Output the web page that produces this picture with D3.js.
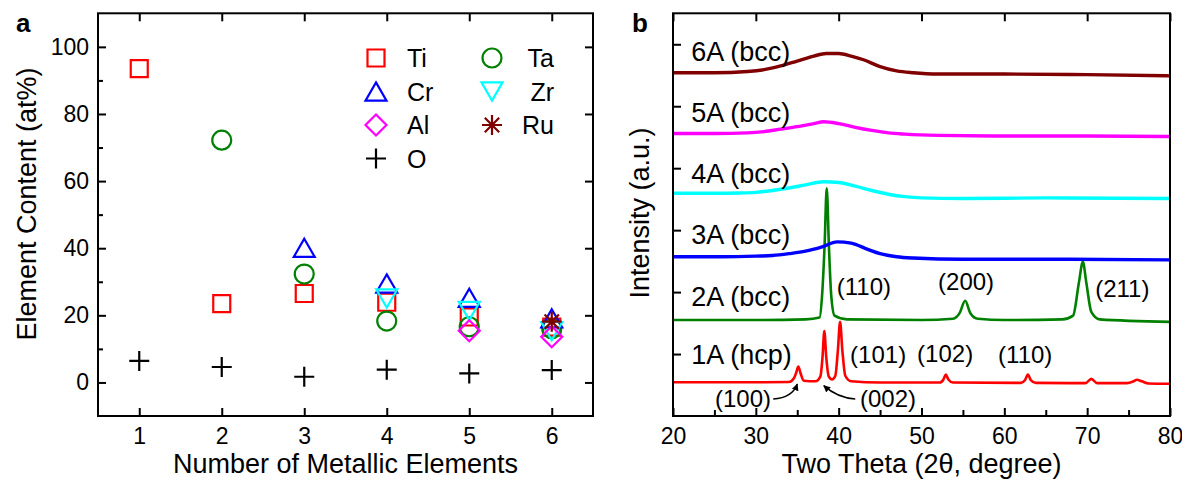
<!DOCTYPE html>
<html>
<head>
<meta charset="utf-8">
<script src="https://cdn.jsdelivr.net/npm/d3@7"></script>
<style>
  body { margin: 0; background: #fff; }
  svg { display: block; }
  text { font-family: "Liberation Sans", Arial, sans-serif; fill: #000; }
</style>
</head>
<body>
<svg id="chart" width="1182" height="481"></svg>
<script>
// ---- panel a: composition vs number of metallic elements ----
const metalCounts = [1, 2, 3, 4, 5, 6];
const tiContent = [93.5, 23.5, 26.5, 23.9, 19.5, 16.5];
const taContent = [null, 72.2, 32.3, 18.3, 16.6, 16.0];
const crContent = [null, null, 40.1, 29.5, 25.2, 19.1];
const zrContent = [null, null, null, 25.0, 21.3, 15.3];
const alContent = [null, null, null, null, 15.4, 13.6];
const ruContent = [null, null, null, null, null, 18.1];
const oContent = [6.4, 4.6, 1.7, 3.8, 2.7, 3.7];
const aTicksX = [1, 2, 3, 4, 5, 6];
const aTicksY = [0, 20, 40, 60, 80, 100];
const aMinorY = [10, 30, 50, 70, 90];

// ---- panel b: XRD patterns (stacked, intensity in axis units) ----
const theta1A = [20, 30, 34.0, 34.6, 34.9, 35.13, 35.4, 35.8, 37.2, 37.8, 38.05, 38.27, 38.5, 38.8, 39.2, 39.6, 39.9, 40.17, 40.45, 40.8, 41.5, 45, 52.2, 52.65, 52.93, 53.25, 53.8, 62, 62.5, 62.84, 63.2, 63.8, 69.8, 70.5, 71.2, 74.8, 75.6, 76.0, 76.6, 77.4, 80];
const int1A = [0.545, 0.545, 0.55, 0.61, 0.71, 0.80, 0.69, 0.57, 0.56, 0.64, 0.95, 1.37, 0.95, 0.64, 0.59, 0.65, 1.05, 1.52, 1.05, 0.65, 0.56, 0.54, 0.54, 0.59, 0.67, 0.59, 0.54, 0.535, 0.58, 0.67, 0.58, 0.535, 0.53, 0.60, 0.53, 0.53, 0.56, 0.585, 0.56, 0.525, 0.52];
const theta2A = [20, 30, 36, 37.7, 38.0, 38.3, 38.56, 38.82, 39.1, 39.5, 41, 50, 53.8, 54.6, 55.27, 55.9, 56.8, 60, 67, 68.3, 69.0, 69.48, 69.9, 70.5, 71.5, 80];
const int2A = [1.55, 1.55, 1.56, 1.59, 1.95, 2.75, 3.675, 2.75, 1.95, 1.62, 1.56, 1.55, 1.57, 1.66, 1.86, 1.66, 1.57, 1.55, 1.56, 1.62, 2.15, 2.49, 2.15, 1.68, 1.56, 1.52];
const theta3A = [20, 26, 30, 32, 34, 36, 38, 39.8, 41.5, 43.5, 45, 47, 49, 55, 65, 80];
const int3A = [2.57, 2.57, 2.58, 2.59, 2.62, 2.66, 2.73, 2.81, 2.79, 2.69, 2.62, 2.57, 2.55, 2.53, 2.53, 2.52];
const theta4A = [20, 25, 28, 30, 32, 34, 36, 38.2, 40, 42, 44, 46, 48, 50, 55, 65, 80];
const int4A = [3.595, 3.595, 3.60, 3.61, 3.64, 3.68, 3.73, 3.78, 3.77, 3.71, 3.64, 3.58, 3.54, 3.52, 3.51, 3.52, 3.51];
const theta5A = [20, 25, 29, 31, 33, 35, 37, 38.2, 40, 42, 44, 46, 48, 52, 60, 70, 80];
const int5A = [4.56, 4.56, 4.57, 4.59, 4.63, 4.67, 4.72, 4.75, 4.72, 4.66, 4.61, 4.57, 4.55, 4.53, 4.52, 4.52, 4.51];
const theta6A = [20, 25, 29, 31, 33, 35, 37, 38.5, 40, 41.5, 43, 45, 47, 49, 52, 60, 70, 80];
const int6A = [5.54, 5.54, 5.56, 5.59, 5.65, 5.73, 5.81, 5.85, 5.85, 5.81, 5.75, 5.64, 5.57, 5.54, 5.52, 5.52, 5.51, 5.49];
const sampleNames = ["1A (hcp)", "2A (bcc)", "3A (bcc)", "4A (bcc)", "5A (bcc)", "6A (bcc)"];
const sampleLabelY = [0.84, 1.78, 2.78, 3.76, 4.74, 5.73];
const peakLabels = ["(110)", "(200)", "(211)", "(101)", "(102)", "(110)", "(100)", "(002)"];
const peakLabelTheta = [39.77, 52.0, 70.97, 41.38, 49.47, 59.25, 25.07, 42.58];
const peakLabelY = [1.953, 2.034, 1.926, 0.856, 0.877, 0.851, 0.15, 0.15];
const bTicksX = [20, 30, 40, 50, 60, 70, 80];
const bMinorX = [25, 35, 45, 55, 65, 75];
const bTicksY = [1, 2, 3, 4, 5, 6];

const svg = d3.select("#chart");

// custom marker shapes (size = full extent squared)
const triUp = { draw(c, s) { const w = Math.sqrt(s), h = w * 0.866; c.moveTo(0, -h / 2); c.lineTo(w / 2, h / 2); c.lineTo(-w / 2, h / 2); c.closePath(); } };
const triDown = { draw(c, s) { const w = Math.sqrt(s), h = w * 0.866; c.moveTo(0, h / 2); c.lineTo(w / 2, -h / 2); c.lineTo(-w / 2, -h / 2); c.closePath(); } };
const diamond = { draw(c, s) { const r = Math.sqrt(s) / 2; c.moveTo(0, -r); c.lineTo(r, 0); c.lineTo(0, r); c.lineTo(-r, 0); c.closePath(); } };
const plus = { draw(c, s) { const r = Math.sqrt(s) / 2; c.moveTo(-r, 0); c.lineTo(r, 0); c.moveTo(0, -r); c.lineTo(0, r); } };
const star = { draw(c, s) { const r = Math.sqrt(s) / 2, d = r * 0.72; c.moveTo(-r, 0); c.lineTo(r, 0); c.moveTo(0, -r); c.lineTo(0, r); c.moveTo(-d, -d); c.lineTo(d, d); c.moveTo(-d, d); c.lineTo(d, -d); } };

const elements = [
  { name: "Ti", values: tiContent, color: "#ff0000", type: d3.symbolSquare, size: 17 * 17, col: 0, row: 0 },
  { name: "Ta", values: taContent, color: "#008000", type: d3.symbolCircle, size: Math.PI * 9.5 * 9.5, col: 1, row: 0 },
  { name: "Cr", values: crContent, color: "#0000ff", type: triUp, size: 21 * 21, col: 0, row: 1 },
  { name: "Zr", values: zrContent, color: "#00ffff", type: triDown, size: 21 * 21, col: 1, row: 1 },
  { name: "Al", values: alContent, color: "#ff00ff", type: diamond, size: 21 * 21, col: 0, row: 2 },
  { name: "Ru", values: ruContent, color: "#800000", type: star, size: 20 * 20, col: 1, row: 2 },
  { name: "O", values: oContent, color: "#000000", type: plus, size: 20 * 20, col: 0, row: 3 }
];

function styleAxis(g, fontSize) {
  g.select(".domain").remove();
  g.attr("font-family", null).attr("font-size", fontSize);
  g.selectAll(".tick line").attr("stroke", "#000").attr("stroke-width", 2);
  g.selectAll(".tick text").attr("fill", "#000");
}

// ================= panel a =================
const xA = d3.scaleLinear().domain([0.5, 6.5]).range([98, 593]);
const yA = d3.scaleLinear().domain([-10, 110]).range([416, 13.3]);
const ga = svg.append("g");

ga.append("g").attr("transform", `translate(0,${yA(-10)})`)
  .call(d3.axisBottom(xA).tickValues(aTicksX).tickSize(-8).tickPadding(12).tickFormat(d3.format("d")))
  .call(g => styleAxis(g, 23));
ga.append("g").attr("transform", `translate(0,${yA(110)})`)
  .call(d3.axisTop(xA).tickValues(aTicksX).tickSize(-8).tickFormat(""))
  .call(g => styleAxis(g, 23));
ga.append("g").attr("transform", `translate(${xA(0.5)},0)`)
  .call(d3.axisLeft(yA).tickValues(aTicksY).tickSize(-8).tickPadding(9))
  .call(g => styleAxis(g, 23));
ga.append("g").attr("transform", `translate(${xA(0.5)},0)`)
  .call(d3.axisLeft(yA).tickValues(aMinorY).tickSize(-5).tickFormat(""))
  .call(g => styleAxis(g, 23));
ga.append("g").attr("transform", `translate(${xA(6.5)},0)`)
  .call(d3.axisRight(yA).tickValues(aTicksY).tickSize(-8).tickFormat(""))
  .call(g => styleAxis(g, 23));

ga.append("rect")
  .attr("x", xA(0.5)).attr("y", yA(110))
  .attr("width", xA(6.5) - xA(0.5)).attr("height", yA(-10) - yA(110))
  .attr("fill", "none").attr("stroke", "#000").attr("stroke-width", 2);

elements.forEach(el => {
  const pts = metalCounts.map((n, i) => ({ n, v: el.values[i] })).filter(d => d.v != null);
  ga.append("g").selectAll("path").data(pts).join("path")
    .attr("transform", d => `translate(${xA(d.n)},${yA(d.v)})`)
    .attr("d", d3.symbol(el.type, el.size))
    .attr("fill", "none").attr("stroke", el.color).attr("stroke-width", 2.2);
});

// legend
const legX = [376, 492], legTextX = [407, 554], legY0 = 58, legDY = 33.5;
const leg = ga.append("g");
elements.forEach(el => {
  const cy = legY0 + el.row * legDY;
  leg.append("path")
    .attr("transform", `translate(${legX[el.col]},${cy})`)
    .attr("d", d3.symbol(el.type, el.size))
    .attr("fill", "none").attr("stroke", el.color).attr("stroke-width", 2.2);
  leg.append("text")
    .attr("x", legTextX[el.col]).attr("y", cy + 9)
    .attr("text-anchor", el.col === 0 ? "start" : "end")
    .attr("font-size", 25).text(el.name);
});

ga.append("text").attr("x", 16).attr("y", 32).attr("font-size", 26).attr("font-weight", "bold").text("a");
ga.append("text").attr("x", (xA(0.5) + xA(6.5)) / 2).attr("y", 473)
  .attr("text-anchor", "middle").attr("font-size", 27).text("Number of Metallic Elements");
ga.append("text").attr("transform", "translate(36,204) rotate(-90)")
  .attr("text-anchor", "middle").attr("font-size", 27).text("Element Content (at%)");

// ================= panel b =================
const xB = d3.scaleLinear().domain([20, 80]).range([673, 1170]);
const yB = d3.scaleLinear().domain([0, 6.5]).range([416, 13.3]);
const gb = svg.append("g");

gb.append("g").attr("transform", `translate(0,${yB(0)})`)
  .call(d3.axisBottom(xB).tickValues(bTicksX).tickSize(-8).tickPadding(12))
  .call(g => styleAxis(g, 23));
gb.append("g").attr("transform", `translate(0,${yB(0)})`)
  .call(d3.axisBottom(xB).tickValues(bMinorX).tickSize(-6).tickFormat(""))
  .call(g => styleAxis(g, 23));
gb.append("g").attr("transform", `translate(0,${yB(6.5)})`)
  .call(d3.axisTop(xB).tickValues(bTicksX).tickSize(-8).tickFormat(""))
  .call(g => styleAxis(g, 23));
gb.append("g").attr("transform", `translate(${xB(20)},0)`)
  .call(d3.axisLeft(yB).tickValues(bTicksY).tickSize(-8).tickFormat(""))
  .call(g => styleAxis(g, 23));

const patterns = [
  { theta: theta1A, inten: int1A, color: "#ff0000", width: 2.6 },
  { theta: theta2A, inten: int2A, color: "#008000", width: 2.6 },
  { theta: theta3A, inten: int3A, color: "#0000ff", width: 3.4 },
  { theta: theta4A, inten: int4A, color: "#00ffff", width: 3.4 },
  { theta: theta5A, inten: int5A, color: "#ff00ff", width: 3.4 },
  { theta: theta6A, inten: int6A, color: "#800000", width: 3.4 }
];
const line = d3.line().x(d => xB(d[0])).y(d => yB(d[1])).curve(d3.curveMonotoneX);
gb.append("g").selectAll("path").data(patterns).join("path")
  .attr("d", p => line(p.theta.map((t, i) => [t, p.inten[i]])))
  .attr("fill", "none").attr("stroke", p => p.color)
  .attr("stroke-width", p => p.width).attr("stroke-linejoin", "round");

gb.append("rect")
  .attr("x", xB(20)).attr("y", yB(6.5))
  .attr("width", xB(80) - xB(20)).attr("height", yB(0) - yB(6.5))
  .attr("fill", "none").attr("stroke", "#000").attr("stroke-width", 2);

gb.append("g").selectAll("text").data(sampleNames).join("text")
  .attr("x", xB(22.2)).attr("y", (d, i) => yB(sampleLabelY[i]))
  .attr("font-size", 27).text(d => d);

gb.append("g").selectAll("text").data(peakLabels).join("text")
  .attr("x", (d, i) => xB(peakLabelTheta[i])).attr("y", (d, i) => yB(peakLabelY[i]))
  .attr("font-size", 24).text(d => d);

// arrows from (100) and (002) labels to their peaks
const arrowFrom = [[32.1, 0.275], [42.0, 0.275]];
const arrowVia = [[34.4, 0.29], [39.9, 0.29]];
const arrowTo = [[35.0, 0.515], [38.2, 0.49]];
svg.append("defs").append("marker")
  .attr("id", "head").attr("viewBox", "0 0 10 10").attr("refX", 9).attr("refY", 5)
  .attr("markerWidth", 7).attr("markerHeight", 7).attr("markerUnits", "userSpaceOnUse")
  .attr("orient", "auto")
  .append("path").attr("d", "M0,0L10,5L0,10z").attr("fill", "#000");
gb.append("g").selectAll("path").data(arrowFrom).join("path")
  .attr("d", (d, i) => `M${xB(d[0])},${yB(d[1])}Q${xB(arrowVia[i][0])},${yB(arrowVia[i][1])} ${xB(arrowTo[i][0])},${yB(arrowTo[i][1])}`)
  .attr("fill", "none").attr("stroke", "#000").attr("stroke-width", 1.5)
  .attr("marker-end", "url(#head)");

gb.append("text").attr("x", 632).attr("y", 32).attr("font-size", 26).attr("font-weight", "bold").text("b");
gb.append("text").attr("x", (xB(20) + xB(80)) / 2).attr("y", 473)
  .attr("text-anchor", "middle").attr("font-size", 27).text("Two Theta (2θ, degree)");
gb.append("text").attr("transform", "translate(649,213) rotate(-90)")
  .attr("text-anchor", "middle").attr("font-size", 27).text("Intensity (a.u.)");
</script>
</body>
</html>
